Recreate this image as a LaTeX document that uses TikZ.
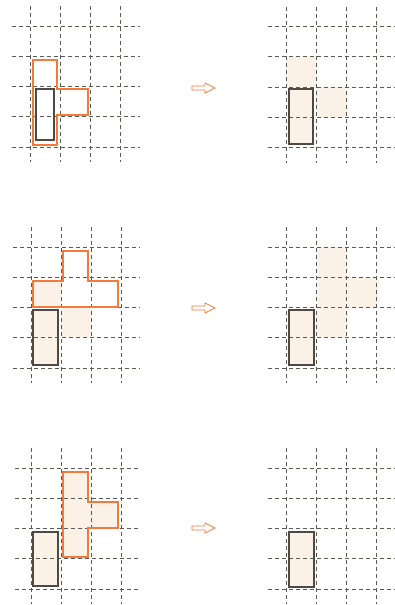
\documentclass[tikz,border=0pt]{standalone}
\definecolor{peach}{RGB}{252,241,230}
\definecolor{orng}{RGB}{244,122,60}
\definecolor{darkr}{RGB}{80,72,66}
\definecolor{gridc}{RGB}{90,90,85}
\tikzset{
  gridline/.style={draw=gridc, line width=0.9pt, dash pattern=on 4pt off 3pt},
  oshape/.style={draw=orng, line width=1.4pt, line join=miter},
  dshape/.style={draw=darkr, line width=1.7pt},
  pfill/.style={fill=peach, draw=none},
  harrow/.style={draw=orng, line width=0.7pt, fill=white, line join=miter}
}
\newcommand{\mygrid}[4]{%
  \foreach \i in {0,...,3} \draw[gridline] ({#1+\i*30.3},{#2-20}) -- ({#1+\i*30.3},{#2+4*30.3+15});
  \foreach \j in {0,...,4} \draw[gridline] ({#3},{#2+\j*30.3}) -- ({#4},{#2+\j*30.3});
}
\newcommand{\hollowarrow}[2]{%
  \draw[harrow] ({#1},{#2-2}) -- ({#1+13},{#2-2}) -- ({#1+13},{#2-5}) -- ({#1+23},{#2}) -- ({#1+13},{#2+5}) -- ({#1+13},{#2+2}) -- ({#1},{#2+2}) -- cycle;
}
\begin{document}
\begin{tikzpicture}[x=1pt,y=-1pt]
\useasboundingbox (0,0) rectangle (395,605);
\fill[white] (0,0) rectangle (395,605);
% ---- fills ----
% panel 2
\path[pfill] (286,57) rectangle (316,87);
\path[pfill] (316,87) rectangle (347,117);
% panel 3
\path[pfill] (33,281) rectangle (61,307);
\path[pfill] (61,307) rectangle (91,337);
% panel 4
\path[pfill] (317,247) rectangle (347,277);
\path[pfill] (317,277) rectangle (378,308);
\path[pfill] (317,308) rectangle (347,338);
% panel 5
\path[pfill] (63,472) -- (88,472) -- (88,502) -- (118,502) -- (118,528) -- (88,528) -- (88,557) -- (63,557) -- cycle;
% dark rect fills
\path[pfill] (289,89) rectangle (313,144);
\path[pfill] (33,310) rectangle (58,365);
\path[pfill] (289,310) rectangle (314,365);
\path[pfill] (33,532) rectangle (58,586);
\path[pfill] (289,532) rectangle (314,587);
% ---- grids ----
\mygrid{30}{26}{12}{140}
\mygrid{286}{26.5}{268}{395}
\mygrid{31}{247}{13}{140}
\mygrid{286}{247}{268}{395}
\mygrid{31}{468}{15}{138}
\mygrid{286}{468}{268}{395}
% ---- outlines ----
% panel 1
\draw[oshape] (33,60) -- (57,60) -- (57,89) -- (88,89) -- (88,115) -- (57,115) -- (57,145) -- (33,145) -- cycle;
\draw[dshape] (36,89) rectangle (54,140);
% panel 2
\draw[dshape] (289,89) rectangle (313,144);
% panel 3
\draw[oshape] (63,251) -- (88,251) -- (88,281) -- (118,281) -- (118,307) -- (33,307) -- (33,281) -- (63,281) -- cycle;
\draw[dshape] (33,310) rectangle (58,365);
% panel 4
\draw[dshape] (289,310) rectangle (314,365);
% panel 5
\draw[oshape] (63,472) -- (88,472) -- (88,502) -- (118,502) -- (118,528) -- (88,528) -- (88,557) -- (63,557) -- cycle;
\draw[dshape] (33,532) rectangle (58,586);
% panel 6
\draw[dshape] (289,532) rectangle (314,587);
% ---- arrows ----
\hollowarrow{192}{88}
\hollowarrow{192}{308}
\hollowarrow{192}{528}
\end{tikzpicture}
\end{document}
